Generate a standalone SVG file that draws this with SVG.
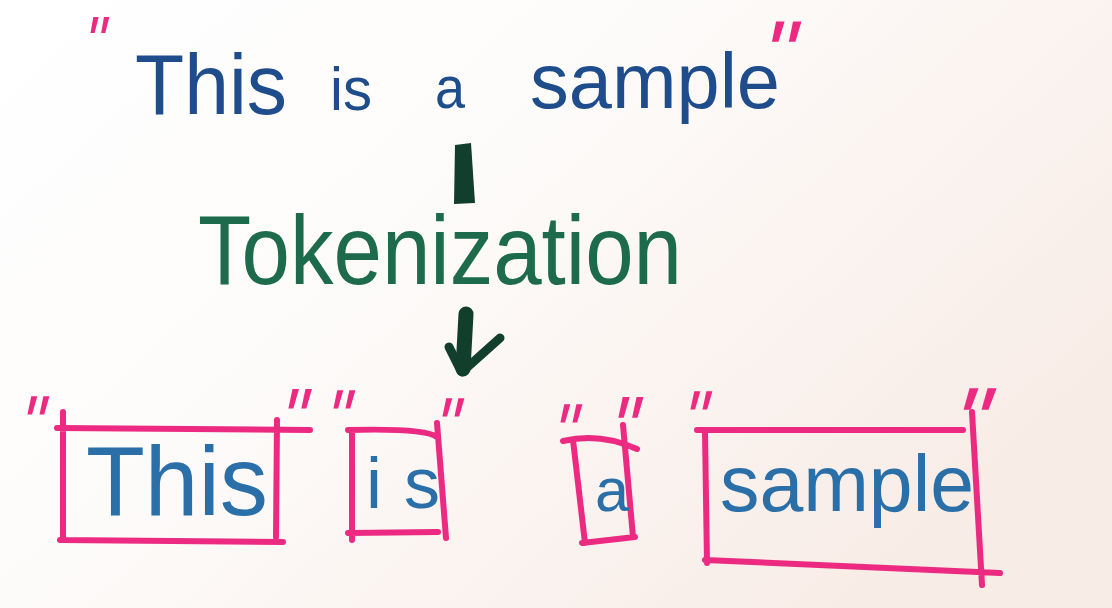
<svg xmlns="http://www.w3.org/2000/svg" width="1112" height="608" viewBox="0 0 1112 608">
  <defs>
    <linearGradient id="paper" x1="0" y1="0" x2="1" y2="0.6">
      <stop offset="0" stop-color="#ffffff"/>
      <stop offset="0.45" stop-color="#fdfbfa"/>
      <stop offset="1" stop-color="#f8ece6"/>
    </linearGradient>
    <style>
      .ink { font-family: "Liberation Sans", Arial, sans-serif; }
      .src { fill: #1f4d8c; }
      .tok { fill: #2b6fa8; }
      .step { fill: #1d6a4d; }
      .q { font-family: "Liberation Sans", Arial, sans-serif; fill: #ec2a82; }
      .box { fill: none; stroke: #ec2a82; stroke-width: 6; stroke-linecap: round; stroke-linejoin: round; }
      .arrow { fill: none; stroke: #123f2d; stroke-linecap: round; }
    </style>
  </defs>

  <rect width="1112" height="608" fill="url(#paper)"/>

  <!-- sentence before tokenization -->
  <g id="source-text">
    <text class="q" font-size="74" transform="translate(80,68) skewX(-12) scale(0.8,1)">"</text>
    <text class="ink src" font-size="86" x="135" y="114" textLength="152" lengthAdjust="spacingAndGlyphs">This</text>
    <text class="ink src" font-size="62" x="330" y="110" textLength="42" lengthAdjust="spacingAndGlyphs">is</text>
    <text class="ink src" font-size="60" x="435" y="108" textLength="30" lengthAdjust="spacingAndGlyphs">a</text>
    <text class="ink src" font-size="78" x="530" y="108" textLength="250" lengthAdjust="spacingAndGlyphs">sample</text>
    <text class="q" font-size="94" transform="translate(756,86) skewX(-14)">"</text>
  </g>

  <!-- process label -->
  <g id="tokenization">
    <text class="ink step" font-size="98" x="198" y="284" textLength="484" lengthAdjust="spacingAndGlyphs">Tokenization</text>
  </g>

  <!-- arrows -->
  <g id="connectors">
    <path d="M455,145 L471,143 L475,203 L454,204 Z" fill="#123f2d"/>
    <path class="arrow" d="M466,314 L463,369" stroke-width="15"/>
    <path class="arrow" d="M500,338 L462,372" stroke-width="9"/>
    <path class="arrow" d="M449,347 L461,371" stroke-width="9"/>
  </g>

  <!-- token: This -->
  <g id="token-this">
    <path class="box" d="M57,428 L310,430 M63,412 L63,540 M60,540 L283,542 M277,420 L276,537"/>
    <text class="q" font-size="84" transform="translate(14,454) skewX(-14) scale(0.8,1)">"</text>
    <text class="q" font-size="90" transform="translate(274,451) skewX(-14) scale(0.8,1)">"</text>
    <text class="ink tok" font-size="98" x="86" y="515" textLength="182" lengthAdjust="spacingAndGlyphs">This</text>
  </g>

  <!-- token: is -->
  <g id="token-is">
    <path class="box" d="M348,430 Q425,428 437,437 M352,430 L352,540 M348,533 L438,532 M437,423 L446,538"/>
    <text class="q" font-size="84" transform="translate(320,448) skewX(-14) scale(0.8,1)">"</text>
    <text class="q" font-size="84" transform="translate(429,456) skewX(-14) scale(0.8,1)">"</text>
    <text class="ink tok" font-size="72" x="366 404" y="508">is</text>
  </g>

  <!-- token: a -->
  <g id="token-a">
    <path class="box" d="M563,441 Q600,432 637,449 M573,440 L585,543 M582,543 L635,537 M623,425 L633,537"/>
    <text class="q" font-size="84" transform="translate(547,462) skewX(-14) scale(0.8,1)">"</text>
    <text class="q" font-size="96" transform="translate(603,463) skewX(-14) scale(0.8,1)">"</text>
    <text class="ink tok" font-size="62" x="595" y="511" textLength="34" lengthAdjust="spacingAndGlyphs">a</text>
  </g>

  <!-- token: sample -->
  <g id="token-sample">
    <path class="box" d="M697,430 L963,430 M705,432 L707,563 M705,560 L1000,573 M972,412 L982,585"/>
    <text class="q" font-size="84" transform="translate(677,449) skewX(-14) scale(0.8,1)">"</text>
    <text class="q" font-size="100" transform="translate(943,457) skewX(-18)">"</text>
    <text class="ink tok" font-size="80" x="720" y="511" textLength="254" lengthAdjust="spacingAndGlyphs">sample</text>
  </g>
</svg>
